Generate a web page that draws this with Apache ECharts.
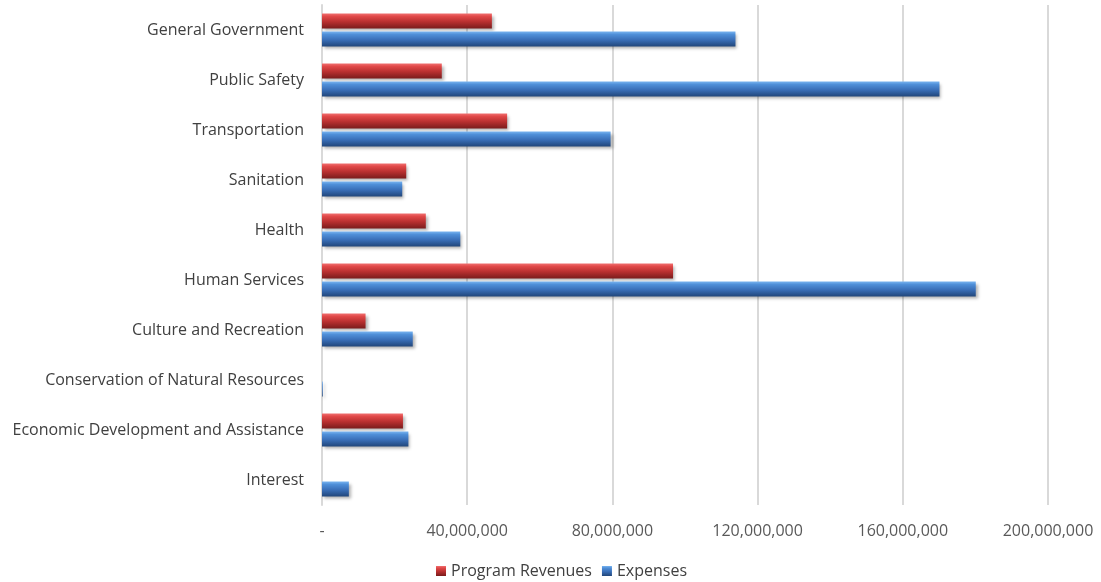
<!DOCTYPE html>
<html><head><meta charset="utf-8">
<script src="https://cdn.jsdelivr.net/npm/echarts@6/dist/echarts.min.js"></script>
<style>html,body{margin:0;padding:0;background:#fff}#c{width:1101px;height:582px}</style>
</head><body><div id="c"></div>
<script>
const categories = ["General Government","Public Safety","Transportation","Sanitation","Health","Human Services","Culture and Recreation","Conservation of Natural Resources","Economic Development and Assistance","Interest"];
const programRevenues = [46800000,33000000,51000000,23200000,28600000,96700000,12000000,0,22300000,0];
const expenses = [113900000,170100000,79500000,22100000,38100000,180100000,25000000,200000,23800000,7400000];
const xTicks = [0,40000000,80000000,120000000,160000000,200000000];

const chart = echarts.init(document.getElementById('c'));
const grad = (c1,c2,c3,c4)=>new echarts.graphic.LinearGradient(0,0,0,1,[
  {offset:0,color:c1},{offset:0.2,color:c2},{offset:0.55,color:c3},{offset:1,color:c4}]);
const fmt = v => v===0 ? '-' : v.toLocaleString('en-US');
chart.setOption({
  animation:false,
  textStyle:{fontFamily:'Open Sans'},
  grid:{left:322,right:53,top:5,bottom:77,containLabel:false},
  legend:{top:558,left:431,itemWidth:10,itemHeight:10,itemGap:10,
    textStyle:{fontSize:16,color:'#404040',fontFamily:'Open Sans'},
    data:[{name:'Program Revenues',icon:'rect'},{name:'Expenses',icon:'rect'}]},
  xAxis:{type:'value',min:xTicks[0],max:xTicks[xTicks.length-1],interval:xTicks[1]-xTicks[0],
    axisLine:{show:false},axisTick:{show:false},
    splitLine:{lineStyle:{color:'#d9d9d9',width:2}},
    axisLabel:{formatter:fmt,fontSize:16,color:'#595959',margin:18}},
  yAxis:{type:'category',data:categories,inverse:true,
    axisLine:{lineStyle:{color:'#d9d9d9',width:2}},axisTick:{show:false},
    axisLabel:{fontSize:16,color:'#404040',margin:18}},
  series:[
    {name:'Program Revenues',type:'bar',data:programRevenues,barWidth:15,barGap:'20%',
     itemStyle:{color:grad('#f07070','#e04848','#b83030','#7a1c1c'),
       shadowColor:'rgba(0,0,0,0.3)',shadowBlur:3,shadowOffsetX:2,shadowOffsetY:2}},
    {name:'Expenses',type:'bar',data:expenses,barWidth:15,
     itemStyle:{color:grad('#78b4f0','#4f8fd8','#3a6fb8','#21467a'),
       shadowColor:'rgba(0,0,0,0.3)',shadowBlur:3,shadowOffsetX:2,shadowOffsetY:2}}
  ]
});
</script></body></html>
